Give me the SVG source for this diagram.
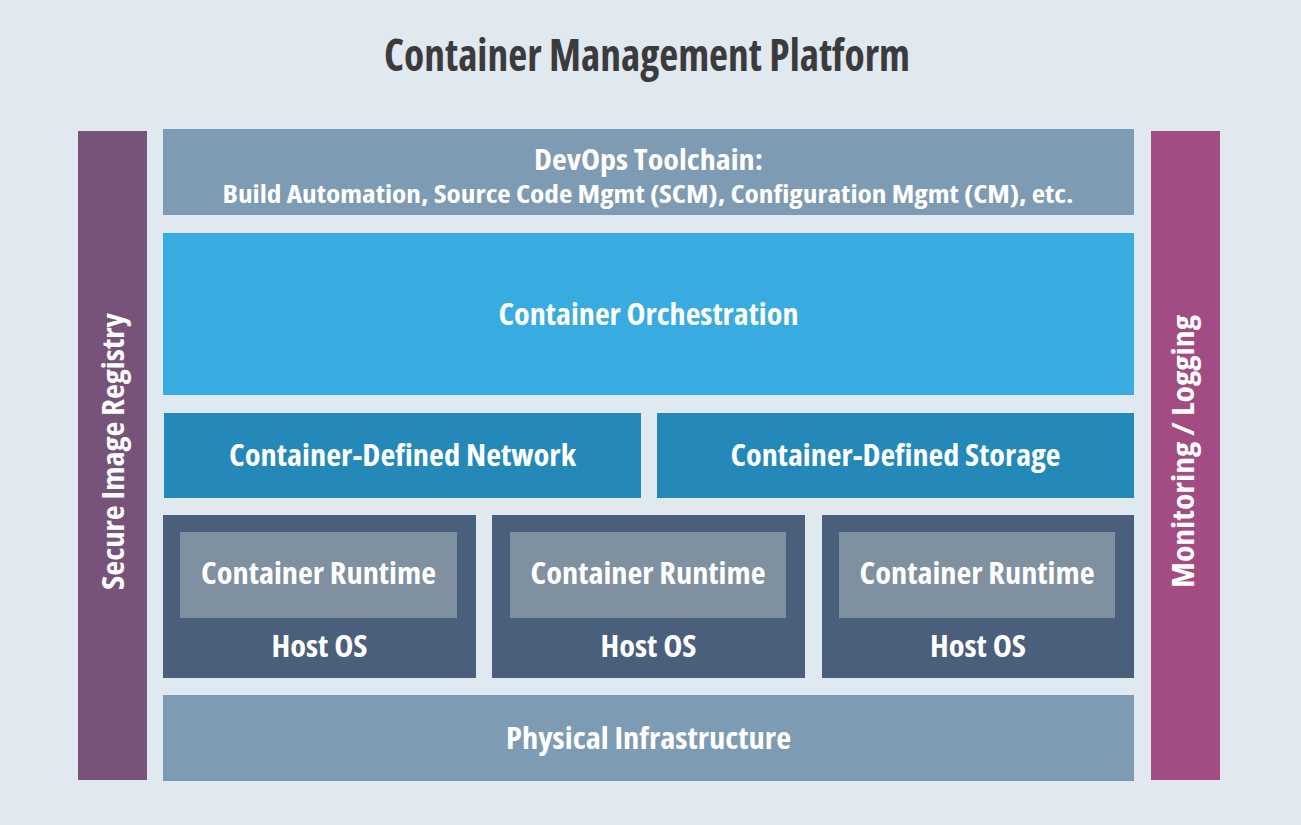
<svg xmlns="http://www.w3.org/2000/svg" width="1301" height="825" viewBox="0 0 1301 825">
  <style>
    text { font-family: "Open Sans", "Liberation Sans", sans-serif; font-weight: 700; font-stretch: condensed; fill: #ffffff; text-anchor: middle; }
    .title { fill: #3b3b3d; font-size: 44px; }
    .lbl { font-size: 30px; }
    .head { font-size: 28px; }
    .sub { font-size: 24px; }
    .host { fill: #4a5f7b; }
    .rt { fill: #7f90a1; }
    .slate { fill: #7e9bb4; }
  </style>
  <rect x="0" y="0" width="1301" height="825" fill="#e0e8f0"/>
  <text class="title" x="647" y="71" textLength="526" lengthAdjust="spacingAndGlyphs">Container Management Platform</text>

  <g id="secure-image-registry">
    <rect x="78" y="131" width="69" height="649" fill="#775379"/>
    <text class="lbl" transform="translate(123.5,451.5) rotate(-90)" x="0" y="0" textLength="277" lengthAdjust="spacingAndGlyphs">Secure Image Registry</text>
  </g>

  <g id="monitoring-logging">
    <rect x="1151" y="131" width="69" height="649" fill="#a34b83"/>
    <text class="lbl" transform="translate(1193.5,451.5) rotate(-90)" x="0" y="0" textLength="273" lengthAdjust="spacingAndGlyphs">Monitoring / Logging</text>
  </g>

  <g id="devops-toolchain">
    <rect class="slate" x="163" y="129" width="971" height="86"/>
    <text class="head" x="648.5" y="170" textLength="229" lengthAdjust="spacingAndGlyphs">DevOps Toolchain:</text>
    <text class="sub" x="648" y="203" textLength="851" lengthAdjust="spacingAndGlyphs">Build Automation, Source Code Mgmt (SCM), Configuration Mgmt (CM), etc.</text>
  </g>

  <g id="container-orchestration">
    <rect x="163" y="233" width="971" height="162" fill="#38abe1"/>
    <text class="lbl" x="648.5" y="325" textLength="300" lengthAdjust="spacingAndGlyphs">Container Orchestration</text>
  </g>

  <g id="container-defined-network">
    <rect x="164" y="413" width="477" height="85" fill="#2489b8"/>
    <text class="lbl" x="402.5" y="466" textLength="347" lengthAdjust="spacingAndGlyphs">Container-Defined Network</text>
  </g>

  <g id="container-defined-storage">
    <rect x="657" y="413" width="477" height="85" fill="#2489b8"/>
    <text class="lbl" x="895.5" y="466" textLength="330" lengthAdjust="spacingAndGlyphs">Container-Defined Storage</text>
  </g>

  <g id="host-1">
    <rect class="host" x="163" y="515" width="313" height="163"/>
    <g id="runtime-1">
      <rect class="rt" x="180" y="532" width="277" height="86"/>
      <text class="lbl" x="318.5" y="583.5" textLength="235" lengthAdjust="spacingAndGlyphs">Container Runtime</text>
    </g>
    <text class="lbl" x="319.5" y="657" textLength="96" lengthAdjust="spacingAndGlyphs">Host OS</text>
  </g>

  <g id="host-2">
    <rect class="host" x="492" y="515" width="313" height="163"/>
    <g id="runtime-2">
      <rect class="rt" x="510" y="532" width="276" height="86"/>
      <text class="lbl" x="648" y="583.5" textLength="235" lengthAdjust="spacingAndGlyphs">Container Runtime</text>
    </g>
    <text class="lbl" x="648.5" y="657" textLength="96" lengthAdjust="spacingAndGlyphs">Host OS</text>
  </g>

  <g id="host-3">
    <rect class="host" x="822" y="515" width="312" height="163"/>
    <g id="runtime-3">
      <rect class="rt" x="839" y="532" width="276" height="86"/>
      <text class="lbl" x="977" y="583.5" textLength="235" lengthAdjust="spacingAndGlyphs">Container Runtime</text>
    </g>
    <text class="lbl" x="978" y="657" textLength="96" lengthAdjust="spacingAndGlyphs">Host OS</text>
  </g>

  <g id="physical-infrastructure">
    <rect class="slate" x="163" y="695" width="971" height="86"/>
    <text class="lbl" x="648.5" y="749" textLength="285" lengthAdjust="spacingAndGlyphs">Physical Infrastructure</text>
  </g>

  <g id="connectors"></g>
</svg>
